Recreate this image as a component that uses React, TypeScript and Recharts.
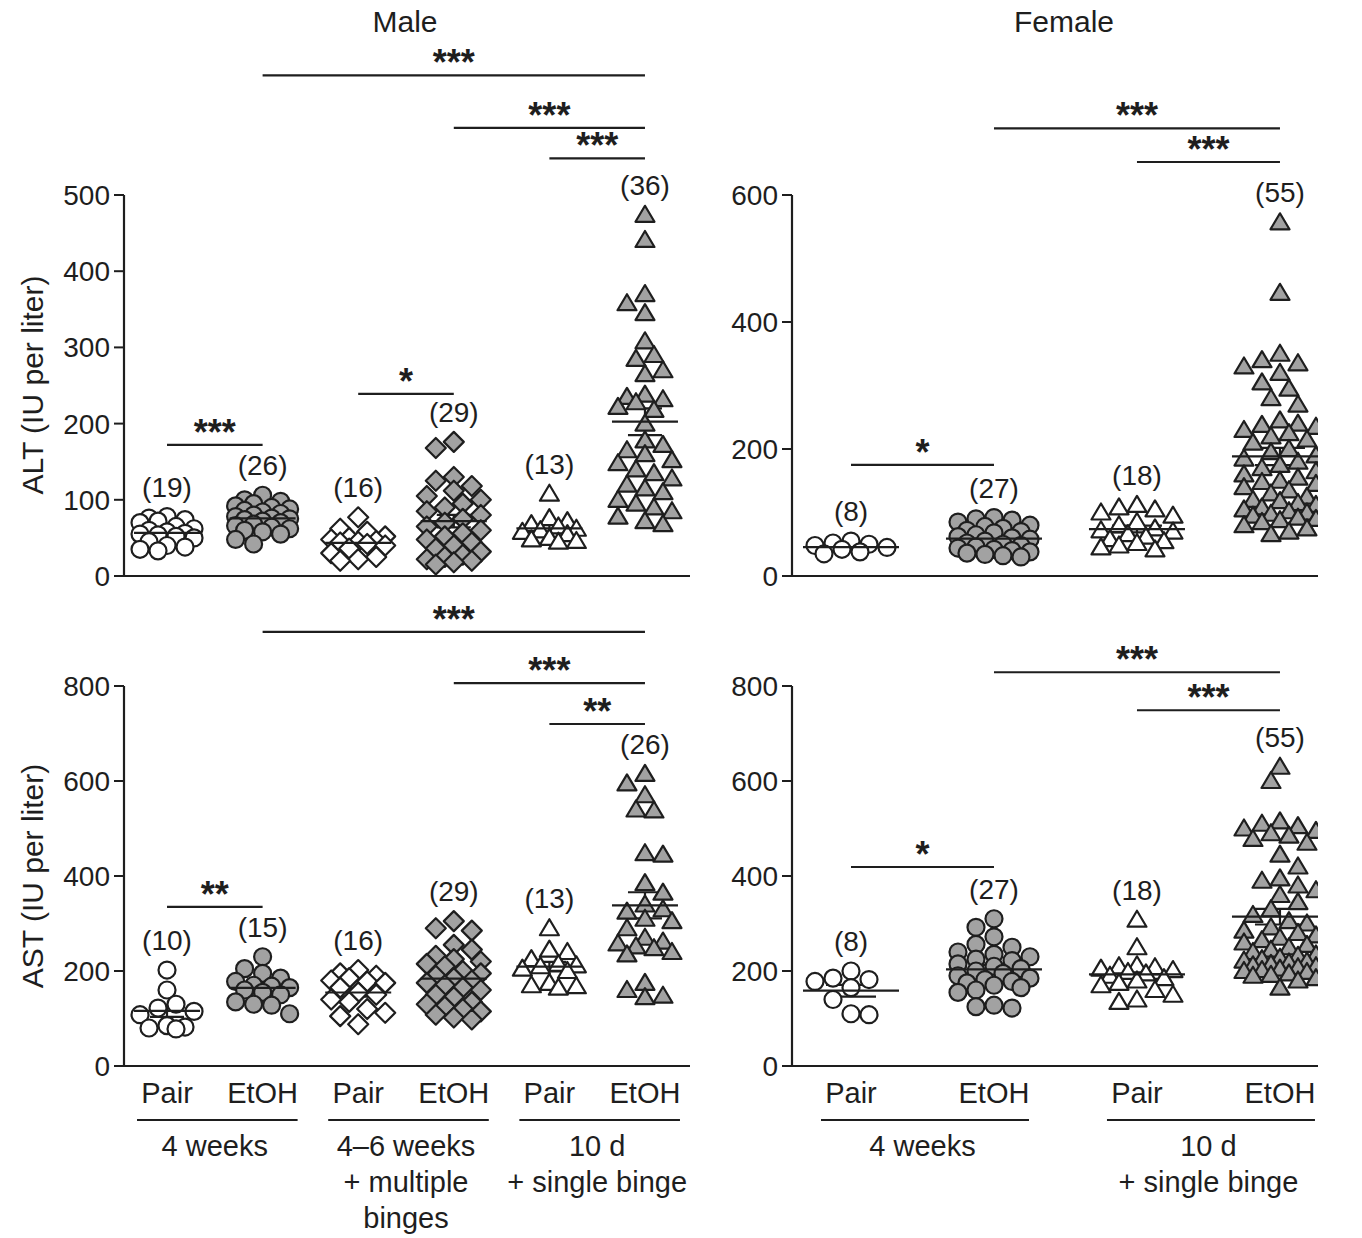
import React from "react";
import { ScatterChart, Scatter, XAxis, YAxis, ReferenceLine, ErrorBar } from "recharts";

const INK = "#1e1e1e";
const GRAY = "#a2a2a2";
const WHITE = "#ffffff";

// column and regimen labels
const maleColumns = ["Pair", "EtOH", "Pair", "EtOH", "Pair", "EtOH"];
const maleRegimens = [["4 weeks"], ["4–6 weeks", "+ multiple", "binges"], ["10 d", "+ single binge"]];
const femaleColumns = ["Pair", "EtOH", "Pair", "EtOH"];
const femaleRegimens = [["4 weeks"], ["10 d", "+ single binge"]];

// tick values
const altMaleTicks = [0, 100, 200, 300, 400, 500];
const altFemaleTicks = [0, 200, 400, 600];
const astTicks = [0, 200, 400, 600, 800];

// ALT (IU per liter), male
const altMalePair4w = [78, 76, 74, 72, 70, 65, 62, 60, 58, 56, 55, 54, 52, 50, 45, 40, 38, 35, 33];
const altMaleEtoh4w = [106, 100, 98, 95, 92, 90, 88, 86, 84, 82, 80, 78, 76, 75, 74, 72, 70, 68, 66, 64, 62, 60, 58, 55, 48, 42];
const altMalePairMulti = [77, 62, 58, 52, 50, 48, 46, 45, 44, 42, 40, 36, 30, 25, 22, 20];
const altMaleEtohMulti = [176, 168, 130, 125, 118, 112, 105, 100, 95, 90, 85, 80, 75, 70, 65, 60, 56, 52, 48, 44, 40, 36, 32, 28, 25, 22, 20, 18, 15];
const altMalePairBinge = [108, 76, 72, 68, 65, 62, 60, 58, 55, 50, 48, 46, 45];
const altMaleEtohBinge = [474, 441, 370, 358, 345, 308, 290, 285, 270, 265, 238, 235, 232, 228, 222, 218, 200, 178, 172, 165, 160, 152, 148, 140, 135, 128, 120, 115, 110, 100, 95, 90, 85, 78, 72, 68];

// ALT, female
const altFemalePair4w = [55, 52, 50, 48, 45, 42, 38, 35];
const altFemaleEtoh4w = [92, 90, 88, 85, 80, 78, 75, 72, 70, 68, 65, 62, 60, 58, 55, 52, 50, 48, 46, 44, 42, 40, 38, 36, 34, 32, 30];
const altFemalePairBinge = [112, 108, 105, 100, 95, 85, 80, 75, 72, 70, 66, 62, 58, 55, 52, 48, 45, 42];
const altFemaleEtohBinge = [557, 446, 350, 340, 335, 330, 320, 305, 295, 280, 270, 245, 240, 238, 235, 230, 225, 220, 215, 210, 200, 195, 190, 185, 180, 175, 170, 165, 160, 155, 150, 148, 145, 140, 135, 130, 125, 120, 118, 115, 112, 108, 105, 102, 100, 98, 95, 92, 90, 88, 85, 80, 75, 70, 66];

// AST (IU per liter), male
const astMalePair4w = [202, 160, 130, 122, 115, 108, 85, 82, 80, 78];
const astMaleEtoh4w = [230, 205, 195, 185, 178, 170, 168, 165, 160, 155, 150, 135, 130, 128, 110];
const astMalePairMulti = [202, 195, 190, 185, 180, 178, 175, 165, 155, 150, 140, 135, 120, 112, 105, 88];
const astMaleEtohMulti = [305, 290, 285, 255, 245, 232, 225, 220, 215, 210, 200, 195, 190, 185, 180, 175, 170, 165, 160, 150, 145, 135, 130, 125, 120, 115, 108, 102, 98];
const astMalePairBinge = [290, 245, 240, 225, 215, 212, 210, 205, 200, 175, 170, 168, 165];
const astMaleEtohBinge = [615, 595, 570, 540, 538, 448, 445, 385, 365, 340, 330, 325, 310, 305, 290, 270, 262, 258, 252, 248, 240, 235, 175, 160, 148, 145];

// AST, female
const astFemalePair4w = [200, 185, 182, 178, 165, 140, 110, 108];
const astFemaleEtoh4w = [310, 292, 272, 256, 250, 240, 235, 230, 225, 222, 215, 210, 205, 200, 195, 190, 185, 182, 178, 175, 170, 165, 160, 155, 128, 125, 122];
const astFemalePairBinge = [308, 250, 212, 210, 208, 205, 202, 198, 195, 190, 185, 180, 175, 170, 160, 150, 140, 135];
const astFemaleEtohBinge = [630, 600, 515, 510, 505, 500, 495, 490, 485, 478, 470, 445, 420, 395, 390, 380, 370, 360, 345, 330, 318, 305, 300, 292, 285, 280, 275, 270, 265, 260, 255, 250, 245, 240, 235, 232, 228, 225, 222, 220, 218, 215, 212, 210, 208, 205, 202, 200, 198, 195, 192, 190, 185, 180, 165];

// significance brackets: columns joined, level in axis units, stars
const altMaleSig = [
  { from: 1, to: 5, level: 657, mark: "***" },
  { from: 3, to: 5, level: 588, mark: "***" },
  { from: 4, to: 5, level: 548, mark: "***" },
  { from: 0, to: 1, level: 172, mark: "***" },
  { from: 2, to: 3, level: 239, mark: "*" },
];
const altFemaleSig = [
  { from: 1, to: 3, level: 705, mark: "***" },
  { from: 2, to: 3, level: 652, mark: "***" },
  { from: 0, to: 1, level: 175, mark: "*" },
];
const astMaleSig = [
  { from: 1, to: 5, level: 914, mark: "***" },
  { from: 3, to: 5, level: 806, mark: "***" },
  { from: 4, to: 5, level: 720, mark: "**" },
  { from: 0, to: 1, level: 335, mark: "**" },
];
const astFemaleSig = [
  { from: 1, to: 3, level: 829, mark: "***" },
  { from: 2, to: 3, level: 749, mark: "***" },
  { from: 0, to: 1, level: 419, mark: "*" },
];

type Marker = "circle" | "diamond" | "triangle";
type Sig = { from: number; to: number; level: number; mark: string };

interface PanelCfg {
  left: number;
  top: number;
  width: number;
  height: number;
  plot: { left: number; top: number; right: number; bottom: number };
  yMax: number;
  ticks: number[];
  xDomain: [number, number];
  values: number[][];
  markers: Marker[];
  fills: string[];
  sig: Sig[];
  columns?: string[];
  regimens?: string[][];
  meanHalf: number;
  semHalf: number;
  swarmHalf: number;
}

const DOT = 18;

// simple beeswarm so overlapping points spread sideways
function swarm(vals: number[], gi: number, pxU: number, pxC: number, half: number) {
  const order = [...vals].sort((a, b) => b - a);
  const placed: { px: number; py: number }[] = [];
  const step = DOT * 0.5;
  return order.map((v, n) => {
    const py = v * pxU;
    const cands = [0];
    for (let s = step; s <= half + 0.01; s += step) {
      if (n % 2) cands.push(-s, s);
      else cands.push(s, -s);
    }
    let best = 0;
    let bestGap = -1;
    for (const c of cands) {
      let gap = Infinity;
      for (const p of placed) gap = Math.min(gap, Math.hypot(p.px - c, p.py - py));
      if (gap >= DOT * 0.9) {
        best = c;
        break;
      }
      if (gap > bestGap) {
        bestGap = gap;
        best = c;
      }
    }
    placed.push({ px: best, py });
    return { x: gi + best / pxC, y: v };
  });
}

const markerShape = (kind: Marker, fill: string) => (p: any) => {
  const { cx, cy } = p;
  if (cx == null || cy == null) return <g />;
  if (kind === "circle")
    return <circle cx={cx} cy={cy} r={8.5} fill={fill} stroke={INK} strokeWidth={2.2} />;
  if (kind === "diamond")
    return (
      <polygon
        points={`${cx},${cy - 10} ${cx + 10},${cy} ${cx},${cy + 10} ${cx - 10},${cy}`}
        fill={fill}
        stroke={INK}
        strokeWidth={2.2}
        strokeLinejoin="round"
      />
    );
  return (
    <polygon
      points={`${cx},${cy - 9} ${cx + 9.5},${cy + 7} ${cx - 9.5},${cy + 7}`}
      fill={fill}
      stroke={INK}
      strokeWidth={2.2}
      strokeLinejoin="round"
    />
  );
};

const meanShape = (half: number) => (p: any) => (
  <line x1={p.cx - half} x2={p.cx + half} y1={p.cy} y2={p.cy} stroke={INK} strokeWidth={2.2} />
);

const countShape = (p: any) => (
  <text x={p.cx} y={p.cy - 20} textAnchor="middle" fontSize={28} fill={INK}>
    ({p.payload.n})
  </text>
);

function Panel({ cfg }: { cfg: PanelCfg }) {
  const { left, top, width, height, plot, yMax, xDomain } = cfg;
  const pxU = (plot.bottom - plot.top) / yMax;
  const pxC = (plot.right - plot.left) / (xDomain[1] - xDomain[0]);
  const groups = cfg.values.map((vals, gi) => swarm(vals, gi, pxU, pxC, cfg.swarmHalf));
  const stats = cfg.values.map((vals, gi) => {
    const n = vals.length;
    const mean = vals.reduce((a, b) => a + b, 0) / n;
    const sd = Math.sqrt(vals.reduce((a, b) => a + (b - mean) ** 2, 0) / (n - 1));
    return { x: gi, y: mean, sem: sd / Math.sqrt(n) };
  });
  const counts = cfg.values.map((vals, gi) => ({ x: gi, y: Math.max(...vals), n: vals.length }));
  const base = plot.bottom - top;

  const colTick = (p: any) => {
    const i = p.payload.value as number;
    const x = p.x as number;
    const cols = cfg.columns || [];
    const regs = cfg.regimens || [];
    const parts = [
      <text key="c" x={x} y={base + 27} textAnchor="middle" dominantBaseline="central" fontSize={29} fill={INK}>
        {cols[i]}
      </text>,
    ];
    if (i % 2 === 0) {
      const x2 = x + pxC;
      const mid = (x + x2) / 2;
      parts.push(<line key="u" x1={x - 30} x2={x2 + 35} y1={base + 54} y2={base + 54} stroke={INK} strokeWidth={2.2} />);
      (regs[i / 2] || []).forEach((t, k) =>
        parts.push(
          <text key={"r" + k} x={mid} y={base + 80 + 36 * k} textAnchor="middle" dominantBaseline="central" fontSize={29} fill={INK}>
            {t}
          </text>
        )
      );
    }
    return <g>{parts}</g>;
  };

  return (
    <div style={{ position: "absolute", left, top, width, height }}>
      <ScatterChart
        width={width}
        height={height}
        margin={{ top: plot.top - top, right: left + width - plot.right, bottom: 0, left: 0 }}
      >
        <XAxis
          type="number"
          dataKey="x"
          domain={xDomain}
          allowDataOverflow
          ticks={cfg.columns ? cfg.columns.map((_, i) => i) : []}
          interval={0}
          tick={cfg.columns ? colTick : false}
          tickLine={false}
          axisLine={{ stroke: INK, strokeWidth: 2.2 }}
          height={top + height - plot.bottom}
        />
        <YAxis
          type="number"
          dataKey="y"
          domain={[0, yMax]}
          ticks={cfg.ticks}
          interval={0}
          width={plot.left - left}
          tickSize={10}
          tickMargin={4}
          tick={{ fill: INK, fontSize: 28 }}
          tickLine={{ stroke: INK, strokeWidth: 2 }}
          axisLine={{ stroke: INK, strokeWidth: 2.2 }}
        />
        {groups.map((pts, gi) => (
          <Scatter
            key={gi}
            data={pts}
            shape={markerShape(cfg.markers[gi], cfg.fills[gi])}
            isAnimationActive={false}
          />
        ))}
        <Scatter data={stats} shape={meanShape(cfg.meanHalf)} isAnimationActive={false}>
          <ErrorBar dataKey="sem" direction="y" width={cfg.semHalf} stroke={INK} strokeWidth={2.2} />
        </Scatter>
        <Scatter data={counts} shape={countShape} isAnimationActive={false} />
        {cfg.sig.map((s, k) => (
          <ReferenceLine
            key={k}
            segment={[
              { x: s.from, y: s.level },
              { x: s.to, y: s.level },
            ]}
            stroke={INK}
            strokeWidth={2.2}
            ifOverflow="visible"
            label={{ value: s.mark, position: "top", fill: INK, fontSize: 36, fontWeight: "bold", offset: 0 }}
          />
        ))}
      </ScatterChart>
    </div>
  );
}

const maleMarkers: Marker[] = ["circle", "circle", "diamond", "diamond", "triangle", "triangle"];
const maleFills = [WHITE, GRAY, WHITE, GRAY, WHITE, GRAY];
const femaleMarkers: Marker[] = ["circle", "circle", "triangle", "triangle"];
const femaleFills = [WHITE, GRAY, WHITE, GRAY];

const maleX: [number, number] = [-0.45, 5.471];
const femaleX: [number, number] = [-0.4126, 3.266];

const panels: PanelCfg[] = [
  {
    left: 0, top: 0, width: 700, height: 600,
    plot: { left: 124, top: 195, right: 690, bottom: 576 },
    yMax: 500, ticks: altMaleTicks, xDomain: maleX,
    values: [altMalePair4w, altMaleEtoh4w, altMalePairMulti, altMaleEtohMulti, altMalePairBinge, altMaleEtohBinge],
    markers: maleMarkers, fills: maleFills, sig: altMaleSig,
    meanHalf: 33, semHalf: 17, swarmHalf: 30,
  },
  {
    left: 700, top: 0, width: 662, height: 600,
    plot: { left: 792, top: 195, right: 1318, bottom: 576 },
    yMax: 600, ticks: altFemaleTicks, xDomain: femaleX,
    values: [altFemalePair4w, altFemaleEtoh4w, altFemalePairBinge, altFemaleEtohBinge],
    markers: femaleMarkers, fills: femaleFills, sig: altFemaleSig,
    meanHalf: 48, semHalf: 25, swarmHalf: 42,
  },
  {
    left: 0, top: 600, width: 700, height: 638,
    plot: { left: 124, top: 686, right: 690, bottom: 1066 },
    yMax: 800, ticks: astTicks, xDomain: maleX,
    values: [astMalePair4w, astMaleEtoh4w, astMalePairMulti, astMaleEtohMulti, astMalePairBinge, astMaleEtohBinge],
    markers: maleMarkers, fills: maleFills, sig: astMaleSig,
    columns: maleColumns, regimens: maleRegimens,
    meanHalf: 33, semHalf: 17, swarmHalf: 30,
  },
  {
    left: 700, top: 600, width: 662, height: 638,
    plot: { left: 792, top: 686, right: 1318, bottom: 1066 },
    yMax: 800, ticks: astTicks, xDomain: femaleX,
    values: [astFemalePair4w, astFemaleEtoh4w, astFemalePairBinge, astFemaleEtohBinge],
    markers: femaleMarkers, fills: femaleFills, sig: astFemaleSig,
    columns: femaleColumns, regimens: femaleRegimens,
    meanHalf: 48, semHalf: 25, swarmHalf: 42,
  },
];

const textStyle: React.CSSProperties = {
  position: "absolute",
  fontSize: 30,
  color: INK,
  whiteSpace: "nowrap",
  lineHeight: 1,
};

export default function App() {
  return (
    <div
      style={{
        position: "absolute",
        left: 0,
        top: 0,
        width: 1362,
        height: 1238,
        background: "#fff",
        fontFamily: "'Liberation Sans', Arial, Helvetica, sans-serif",
      }}
    >
      {panels.map((p, i) => (
        <Panel key={i} cfg={p} />
      ))}
      <div style={{ ...textStyle, left: 405, top: 22, transform: "translate(-50%, -50%)" }}>Male</div>
      <div style={{ ...textStyle, left: 1064, top: 22, transform: "translate(-50%, -50%)" }}>Female</div>
      <div style={{ ...textStyle, left: 33, top: 385, transform: "translate(-50%, -50%) rotate(-90deg)" }}>
        ALT (IU per liter)
      </div>
      <div style={{ ...textStyle, left: 33, top: 876, transform: "translate(-50%, -50%) rotate(-90deg)" }}>
        AST (IU per liter)
      </div>
    </div>
  );
}
